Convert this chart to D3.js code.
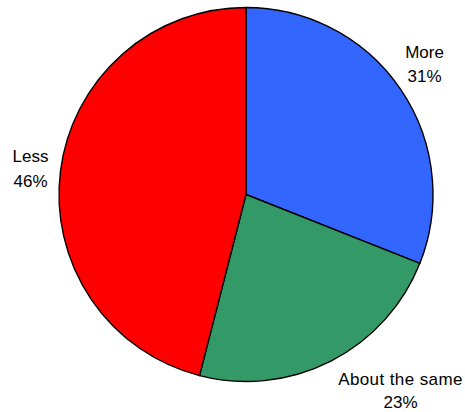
<!DOCTYPE html>
<html>
<head>
<meta charset="utf-8">
<script src="https://cdn.jsdelivr.net/npm/d3@7"></script>
<style>
  html, body { margin: 0; padding: 0; background: #fff; }
  svg { display: block; }
  text { font-family: "Liberation Sans", Arial, sans-serif; font-size: 17px; fill: #000; }
</style>
</head>
<body>
<script>
const categories = ["More", "About the same", "Less"];
const values = [31, 23, 46];
const colors = ["#3366FF", "#339966", "#FF0000"];

const W = 465, H = 412;
const cx = 246, cy = 194.5, R = 187;
// label anchor (center x, first-line baseline y, line gap)
const labelAnchors = [[424.5, 57.5, 24.5], [400.5, 385, 22.5], [30.5, 162, 24.5]];

const svg = d3.select("body").append("svg").attr("width", W).attr("height", H);
const g = svg.append("g").attr("transform", `translate(${cx},${cy})`);

const pie = d3.pie().sort(null).value(d => d.v);
const arc = d3.arc().innerRadius(0).outerRadius(R);
const data = categories.map((c, i) => ({ c, v: values[i], col: colors[i] }));
const arcs = pie(data);

g.selectAll("path").data(arcs).enter().append("path")
  .attr("d", arc)
  .attr("fill", d => d.data.col)
  .attr("stroke", "#000")
  .attr("stroke-width", 1.4)
  .attr("stroke-linejoin", "round");

const total = d3.sum(values);
const lab = svg.selectAll("g.lab").data(arcs).enter().append("g").attr("class", "lab");
lab.append("text")
  .attr("x", (d, i) => labelAnchors[i][0])
  .attr("y", (d, i) => labelAnchors[i][1])
  .attr("text-anchor", "middle")
  .attr("letter-spacing", (d, i) => i === 1 ? 0.4 : 0)
  .text(d => d.data.c);
lab.append("text")
  .attr("x", (d, i) => labelAnchors[i][0])
  .attr("y", (d, i) => labelAnchors[i][1] + labelAnchors[i][2])
  .attr("text-anchor", "middle")
  .text(d => Math.round(d.data.v / total * 100) + "%");
</script>
</body>
</html>
